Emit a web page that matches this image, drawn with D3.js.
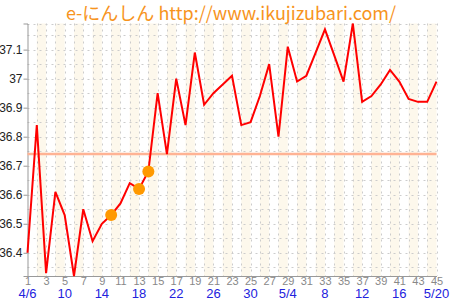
<!DOCTYPE html>
<html>
<head>
<meta charset="utf-8">
<script src="https://cdn.jsdelivr.net/npm/d3@7"></script>
<style>
  body { margin: 0; background: #fff; }
  svg { display: block; }
</style>
</head>
<body>
<div id="chart"></div>
<script>
const titleText = "e-にんしん http://www.ikujizubari.com/";
const days = d3.range(1, 46);
const temps = [
  36.40, 36.84, 36.33, 36.61, 36.53, 36.32, 36.55, 36.44, 36.50, 36.53,
  36.57, 36.64, 36.62, 36.68, 36.95, 36.74, 37.00, 36.84, 37.09, 36.91,
  36.95, 36.98, 37.01, 36.84, 36.85, 36.94, 37.05, 36.80, 37.11, 36.99,
  37.01, 37.09, 37.17, 37.08, 36.99, 37.19, 36.92, 36.94, 36.98, 37.03,
  36.99, 36.93, 36.92, 36.92, 36.99
];
const markedDays = [10, 13, 14];
const baseline = 36.74;
const yTicks = [36.4, 36.5, 36.6, 36.7, 36.8, 36.9, 37, 37.1];
const dateTicks = [
  [1, "4/6"], [5, "10"], [9, "14"], [13, "18"], [17, "22"], [21, "26"],
  [25, "30"], [29, "5/4"], [33, "8"], [37, "12"], [41, "16"], [45, "5/20"]
];

const drawChart = id => {
    const width = 450;
    const height = 300;
    const plot = { left: 27.5, right: 436.5, top: 23.5, bottom: 276 };

    const svg = d3.select(id)
        .append("svg")
        .attr("width", width)
        .attr("height", height);

    const x = d3.scaleLinear().domain([1, 45]).range([plot.left, plot.right]);
    const y = d3.scaleLinear().domain(d3.extent(temps)).range([plot.bottom, plot.top]);

    // alternating background bands
    svg.append("g")
        .selectAll("rect")
        .data(days.filter(d => d % 2 === 0))
        .join("rect")
        .attr("x", d => x(d))
        .attr("y", plot.top)
        .attr("width", x(2) - x(1))
        .attr("height", plot.bottom - plot.top)
        .attr("fill", "#fdf8ec");

    // dashed grid
    const grid = svg.append("g")
        .attr("stroke", "#cccccc")
        .attr("stroke-dasharray", "2,4")
        .attr("stroke-width", 1);

    grid.selectAll("line.v")
        .data(days.slice(1))
        .join("line")
        .attr("class", "v")
        .attr("x1", d => Math.round(x(d)) + 0.5).attr("x2", d => Math.round(x(d)) + 0.5)
        .attr("y1", plot.top).attr("y2", plot.bottom);

    const hGrid = d3.range(36.35, 37.19, 0.05).map(v => +v.toFixed(2));
    grid.selectAll("line.h")
        .data(hGrid.concat([y.domain()[1]]))
        .join("line")
        .attr("class", "h")
        .attr("x1", plot.left).attr("x2", plot.right)
        .attr("y1", d => Math.round(y(d)) + 0.5)
        .attr("y2", d => Math.round(y(d)) + 0.5);

    // y axis
    const yAxis = svg.append("g")
        .attr("transform", `translate(${plot.left},0)`)
        .call(d3.axisLeft(y).tickValues(yTicks).tickSize(4).tickFormat(d3.format("")));
    yAxis.select(".domain").attr("stroke", "#999");
    yAxis.selectAll(".tick line").attr("stroke", "#999");
    yAxis.selectAll(".tick text")
        .attr("fill", "#222")
        .attr("font-family", "Liberation Sans, Arial, sans-serif")
        .attr("font-size", 12)
        .attr("x", -5);

    // x axis
    const xAxis = svg.append("g")
        .attr("transform", `translate(0,${plot.bottom})`)
        .call(d3.axisBottom(x).tickValues(days.filter(d => d % 2 === 1)).tickSize(0).tickSizeOuter(0));
    xAxis.select(".domain").attr("stroke", "#999");
    xAxis.selectAll(".tick text")
        .attr("fill", "#888")
        .attr("font-family", "Liberation Sans, Arial, sans-serif")
        .attr("font-size", 11)
        .attr("dy", "0.5em");

    svg.append("g")
        .selectAll("text")
        .data(dateTicks)
        .join("text")
        .attr("x", d => x(d[0]))
        .attr("y", 298)
        .attr("text-anchor", "middle")
        .attr("fill", "#2222dd")
        .attr("font-family", "Liberation Sans, Arial, sans-serif")
        .attr("font-size", 13)
        .text(d => d[1]);

    // baseline
    svg.append("line")
        .attr("x1", plot.left).attr("x2", plot.right)
        .attr("y1", y(baseline)).attr("y2", y(baseline))
        .attr("stroke", "#ffb394")
        .attr("stroke-width", 2.5);

    // temperature line
    const line = d3.line()
        .x((d, i) => x(days[i]))
        .y(d => y(d));

    svg.append("path")
        .datum(temps)
        .attr("fill", "none")
        .attr("stroke", "#ff0000")
        .attr("stroke-width", 2)
        .attr("d", line);

    svg.append("g")
        .selectAll("circle")
        .data(markedDays)
        .join("circle")
        .attr("cx", d => x(d))
        .attr("cy", d => y(temps[d - 1]))
        .attr("r", 6)
        .attr("fill", "#ff9900");

    // title
    svg.append("text")
        .attr("x", 231)
        .attr("y", 20)
        .attr("text-anchor", "middle")
        .attr("fill", "#f7941d")
        .attr("font-family", "Noto Sans CJK JP, sans-serif")
        .attr("font-size", 18)
        .text(titleText);
};

drawChart("#chart");
</script>
</body>
</html>
